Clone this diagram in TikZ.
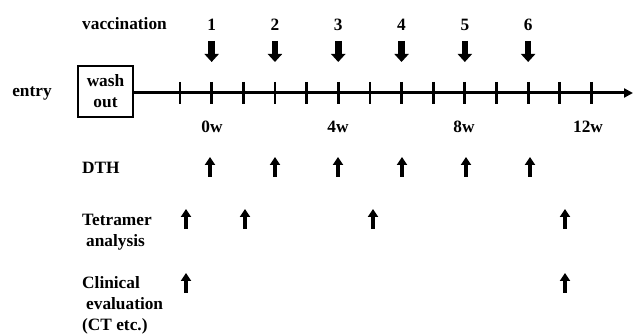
\documentclass[tikz,border=0pt]{standalone}
\usepackage{fontspec}
\setmainfont{Liberation Serif}
\usetikzlibrary{arrows.meta}
\begin{document}
\begin{tikzpicture}[x=1pt,y=-1pt,
  lbl/.style={font=\fontsize{17.3}{21}\selectfont\bfseries, inner sep=0pt},
  vaccarrow/.style={line width=6.5pt, -{Triangle[width=14pt,length=8pt]}},
  uparrow/.style={line width=3.2pt, -{Triangle[width=10pt,length=8pt]}},
  axisline/.style={line width=3pt, -{Triangle[width=9pt,length=9pt]}},
  tickline/.style={line width=2.8pt}]
\useasboundingbox (0,0) rectangle (633,334);
% labels
\node[lbl] (entry) at (32,93) {entry};
\node[lbl,anchor=west] (vacc) at (82,24) {vaccination};
\node[lbl,anchor=west] (dth) at (82,168) {DTH};
\node[lbl,anchor=west,align=left] (tetra) at (82,232) {Tetramer\\\hspace{4pt}analysis};
\node[lbl,anchor=west,align=left] (clin) at (82,305) {Clinical\\\hspace{4pt}evaluation\\(CT etc.)};
% wash out box
\node[lbl,draw,line width=2.8pt,minimum width=55pt,minimum height=51pt,align=center] (box) at (105.5,91.5) {wash\\out};
% axis
\coordinate (axend) at (633,93);
\draw[axisline] (box.east |- 0,93) -- (axend);
\foreach \k in {0,...,13}{
  \coordinate (t\k a) at ({180+31.65*\k},82);
  \coordinate (t\k b) at ({180+31.65*\k},104);
  \draw[tickline] (t\k a) -- (t\k b);
}
% week labels
\node[lbl] (w0) at (212,127) {0w};
\node[lbl] (w4) at (338,127) {4w};
\node[lbl] (w8) at (464,127) {8w};
\node[lbl] (w12) at (588,127) {12w};
% vaccinations
\foreach \n/\w in {1/0,2/2,3/4,4/6,5/8,6/10}{
  \node[lbl] (v\n) at ({211.65+31.65*\w},25) {\n};
  \coordinate (va\n) at ({211.65+31.65*\w},41);
  \coordinate (vb\n) at ({211.65+31.65*\w},62);
  \draw[vaccarrow] (va\n) -- (vb\n);
}
% DTH arrows
\foreach \i/\x in {1/210,2/275,3/338,4/402,5/466,6/530}{
  \coordinate (da\i) at (\x,177);
  \coordinate (db\i) at (\x,157);
  \draw[uparrow] (da\i) -- (db\i);
}
% Tetramer arrows
\foreach \i/\x in {1/186,2/245,3/373,4/565}{
  \coordinate (ta\i) at (\x,229);
  \coordinate (tb\i) at (\x,209);
  \draw[uparrow] (ta\i) -- (tb\i);
}
% Clinical arrows
\foreach \i/\x in {1/186,2/565}{
  \coordinate (ca\i) at (\x,293);
  \coordinate (cb\i) at (\x,273);
  \draw[uparrow] (ca\i) -- (cb\i);
}
\end{tikzpicture}
\end{document}
